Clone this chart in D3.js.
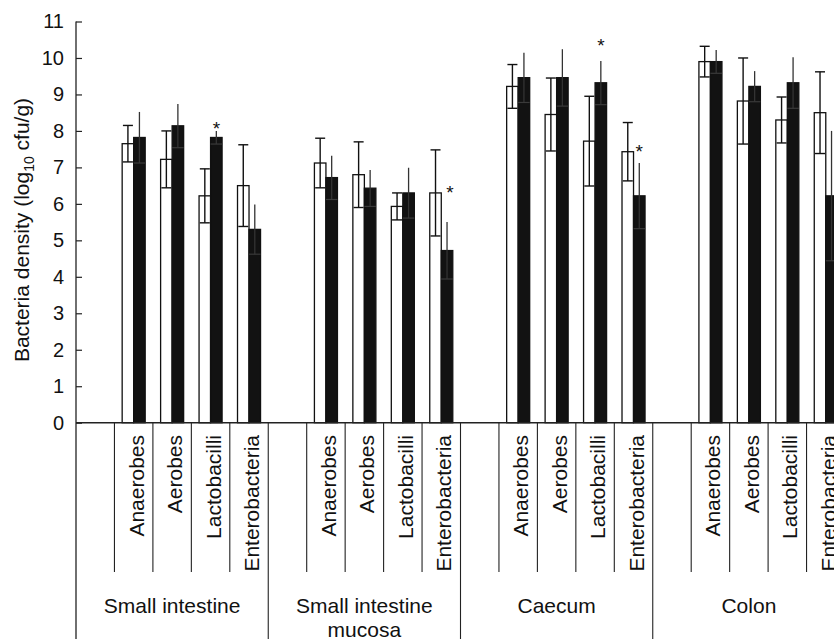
<!DOCTYPE html>
<html>
<head>
<meta charset="utf-8">
<script src="https://cdn.jsdelivr.net/npm/d3@7"></script>
<style>
  html, body { margin: 0; padding: 0; background: #fff; }
  svg { display: block; font-family: "Liberation Sans", Arial, Helvetica, sans-serif; }
</style>
</head>
<body>
<svg id="chart" width="834" height="639"></svg>
<script>
// ---- data ----
const groups = ["Small intestine", "Small intestine|mucosa", "Caecum", "Colon"];
const bacteria = ["Anaerobes", "Aerobes", "Lactobacilli", "Enterobacteria"];
const series = ["control", "treated"];

// white bars (mean, SD) per group, in bacteria order
const controlMean = [
  [7.65, 7.22, 6.22, 6.50],
  [7.12, 6.80, 5.93, 6.30],
  [9.22, 8.45, 7.72, 7.43],
  [9.90, 8.82, 8.30, 8.50]
];
const controlSD = [
  [0.50, 0.78, 0.74, 1.12],
  [0.68, 0.90, 0.37, 1.18],
  [0.60, 1.00, 1.23, 0.80],
  [0.42, 1.18, 0.63, 1.12]
];
// black bars
const treatedMean = [
  [7.82, 8.14, 7.82, 5.30],
  [6.72, 6.43, 6.30, 4.72],
  [9.46, 9.46, 9.32, 6.22],
  [9.90, 9.22, 9.32, 6.22]
];
const treatedSD = [
  [0.70, 0.60, 0.18, 0.68],
  [0.60, 0.50, 0.69, 0.78],
  [0.68, 0.78, 0.60, 0.90],
  [0.32, 0.42, 0.70, 1.78]
];
// significance markers: group, bacterium, level of the star (log10 cfu/g)
const stars = [
  { g: 0, b: 2, level: 8.15 },
  { g: 1, b: 3, level: 6.40 },
  { g: 2, b: 2, level: 10.43 },
  { g: 2, b: 3, level: 7.52 }
];
const yTicks = [0, 1, 2, 3, 4, 5, 6, 7, 8, 9, 10, 11];

// ---- layout ----
const svg = d3.select("#chart");
const axisX = 76;
const cellsPerGroup = bacteria.length + 1;
const cells = d3.range(groups.length * cellsPerGroup);
const x = d3.scaleBand().domain(cells).range([axisX, axisX + 38.45 * cells.length]).padding(0);
const xs = d3.scaleBand().domain(series).range([0, x.bandwidth()]).paddingInner(0).paddingOuter(0.67);
const y = d3.scaleLinear().domain([0, 11]).range([422.7, 21.5]);
const baseY = y(0);
const subBottom = 572;
const H = 639;

const cellIndex = (g, b) => g * cellsPerGroup + b + 1;

// flatten records
const records = [];
groups.forEach((gname, g) => {
  bacteria.forEach((bname, b) => {
    records.push({ g, b, s: "control", mean: controlMean[g][b], sd: controlSD[g][b] });
    records.push({ g, b, s: "treated", mean: treatedMean[g][b], sd: treatedSD[g][b] });
  });
});

const barX = d => x(cellIndex(d.g, d.b)) + xs(d.s);
const barC = d => barX(d) + xs.bandwidth() / 2;

// ---- bars ----
svg.append("g").selectAll("rect").data(records).join("rect")
  .attr("x", barX)
  .attr("y", d => y(d.mean))
  .attr("width", xs.bandwidth())
  .attr("height", d => baseY - y(d.mean))
  .attr("fill", d => d.s === "control" ? "#fff" : "#121212")
  .attr("stroke", "#111")
  .attr("stroke-width", 1.3);

// ---- error bars ----
const eg = svg.append("g");
records.forEach(d => {
  const cx = barC(d);
  const hi = y(d.mean + d.sd), lo = y(d.mean - d.sd);
  const cw = 5;
  if (d.s === "control") {
    eg.append("line").attr("x1", cx).attr("x2", cx).attr("y1", hi).attr("y2", lo)
      .attr("stroke", "#111").attr("stroke-width", 1.4);
    eg.append("line").attr("x1", cx - cw).attr("x2", cx + cw).attr("y1", hi).attr("y2", hi)
      .attr("stroke", "#111").attr("stroke-width", 1.4);
    eg.append("line").attr("x1", cx - cw).attr("x2", cx + cw).attr("y1", lo).attr("y2", lo)
      .attr("stroke", "#111").attr("stroke-width", 1.4);
  } else {
    eg.append("line").attr("x1", cx).attr("x2", cx).attr("y1", hi).attr("y2", lo)
      .attr("stroke", "#333").attr("stroke-width", 1.3);
    eg.append("line").attr("x1", barX(d)).attr("x2", barX(d) + xs.bandwidth()).attr("y1", lo).attr("y2", lo)
      .attr("stroke", "#3a3a3a").attr("stroke-width", 1.2);
  }
});

// ---- stars ----
svg.append("g").selectAll("text").data(stars).join("text")
  .attr("x", d => barC({ g: d.g, b: d.b, s: "treated" }) + (d.g === 1 ? 3 : 0))
  .attr("y", d => y(d.level) + 10)
  .attr("text-anchor", "middle")
  .attr("font-size", 19)
  .attr("fill", "#111")
  .text("*");

// ---- y axis ----
const yAxis = d3.axisLeft(y).tickValues(yTicks).tickSize(-6).tickPadding(6 + 6).tickFormat(d3.format("d"));
const ya = svg.append("g").attr("transform", `translate(${axisX},0)`).call(yAxis);
ya.select(".domain").remove();
ya.selectAll(".tick line").attr("stroke", "#222").attr("stroke-width", 1.2);
ya.selectAll(".tick text").attr("font-size", 20).attr("fill", "#111")
  .attr("font-family", "'Liberation Sans', Arial, sans-serif");
// axis line from top tick down to bottom of table
svg.append("line").attr("x1", axisX).attr("x2", axisX).attr("y1", y(11)).attr("y2", H)
  .attr("stroke", "#222").attr("stroke-width", 1.3);
// baseline
svg.append("line").attr("x1", axisX).attr("x2", 834).attr("y1", baseY).attr("y2", baseY)
  .attr("stroke", "#222").attr("stroke-width", 1.4);

// y title
const yt = svg.append("text")
  .attr("transform", "translate(29,230) rotate(-90)")
  .attr("text-anchor", "middle")
  .attr("font-size", 21)
  .attr("fill", "#111");
yt.append("tspan").text("Bacteria density (log");
yt.append("tspan").attr("font-size", 14).attr("dy", 5).text("10");
yt.append("tspan").attr("dy", -5).text(" cfu/g)");

// ---- category table ----
const tg = svg.append("g");
cells.forEach(i => {
  const isGroupStart = i % cellsPerGroup === 0;
  if (i === 0) return;
  tg.append("line")
    .attr("x1", x(i)).attr("x2", x(i))
    .attr("y1", baseY).attr("y2", isGroupStart ? H : subBottom)
    .attr("stroke", "#222").attr("stroke-width", 1.1);
});
// bacteria labels
groups.forEach((gname, g) => {
  bacteria.forEach((bname, b) => {
    const cx = x(cellIndex(g, b)) + x.bandwidth() / 2;
    tg.append("text")
      .attr("transform", `translate(${cx + 10},435) rotate(-90)`)
      .attr("text-anchor", "end")
      .attr("font-size", 21)
      .attr("fill", "#111")
      .text(bname);
  });
  const gx = x(g * cellsPerGroup) + x.bandwidth() * cellsPerGroup / 2;
  const lines = gname.split("|");
  lines.forEach((ln, k) => {
    tg.append("text")
      .attr("x", gx).attr("y", 612.5 + k * 24)
      .attr("text-anchor", "middle")
      .attr("font-size", 21)
      .attr("fill", "#111")
      .text(ln);
  });
});
</script>
</body>
</html>
